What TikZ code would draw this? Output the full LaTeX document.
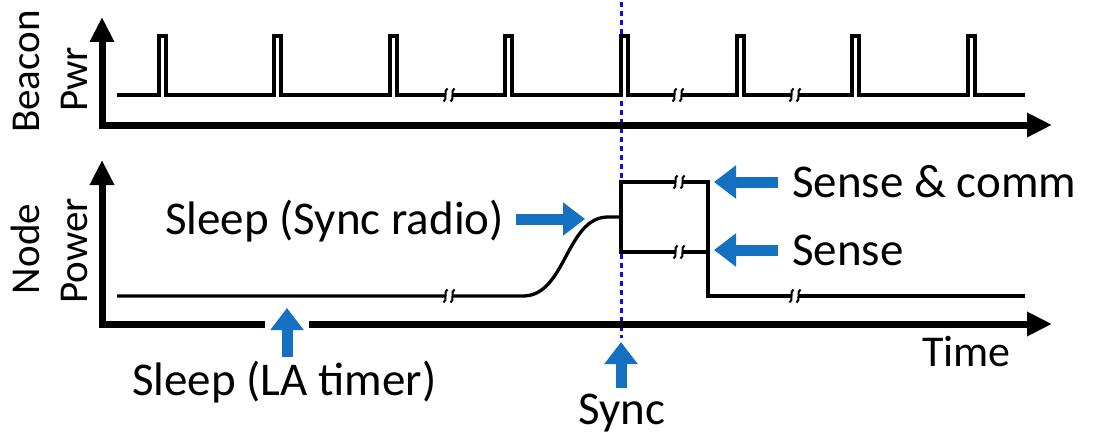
\documentclass[tikz,border=0pt]{standalone}
\usepackage{fontspec}
\setmainfont{Carlito}
\usetikzlibrary{arrows.meta}

\definecolor{calloutblue}{RGB}{20,112,192}
\definecolor{syncblue}{RGB}{12,12,232}

% small break mark on a signal line
\newcommand{\lnbreak}[2]{%
    \fill[white] (#1-3.5,#2-2.5) rectangle (#1+3.5,#2+2.5);
    \draw[line width=2pt] (#1-1.5,#2-6.5) .. controls (#1-6,#2-5) and (#1-1,#2+5) .. (#1-5.5,#2+6.5);
    \draw[line width=2pt] (#1+5.5,#2-6.5) .. controls (#1+1,#2-5) and (#1+6,#2+5) .. (#1+1.5,#2+6.5);
}

\begin{document}
\begin{tikzpicture}[
        x=1pt,
        y=-1pt,
        axis/.style={line width=7pt, line join=miter, {Triangle[width=23pt,length=25pt]}-{Triangle[width=23pt,length=25pt]}},
        signal/.style={line width=3.3pt, line join=miter},
        callout/.style={draw=calloutblue, line width=11pt, -{Triangle[width=32pt,length=22pt]}},
        label text/.style={inner sep=0pt, font=\fontsize{47}{56}\selectfont},
        axis text/.style={inner sep=0pt, rotate=90, font=\fontsize{41}{49}\selectfont}
    ]
    \useasboundingbox (0,0) rectangle (1097,436);

    % sync instant
    \draw[syncblue, line width=3pt, dash pattern=on 5pt off 4pt] (621,2) -- (621,338);

    % axes
    \draw[axis] (102,17) -- (102,125) -- (1052,125);
    \draw[axis] (102,160) -- (102,324) -- (1052,324);
    \fill[white] (265,318) rectangle (309,330);

    \node[axis text, anchor=base west] (beacon) at (39,133) {Beacon};
    \node[axis text, anchor=base west] (pwr) at (87,112) {Pwr};
    \node[axis text, anchor=base] (node) at (39,249) {Node};
    \node[axis text, anchor=base] (power) at (87,251) {Power};

    % beacon pulses
    \draw[signal] (117,95)
        \foreach \p in {159,274,390,505,621,737,852,968} {
            -- (\p,95) -- (\p,36) -- (\p+7,36) -- (\p+7,95)
        } -- (1025,95);
    \foreach \bx in {449,678,795} {
        \lnbreak{\bx}{95}
    }

    % node power
    \draw[signal] (117,296) -- (523,296) .. controls (566,296) and (566,217) .. (608,217) -- (621,217);
    \draw[signal] (708,252) -- (621,252) -- (621,182) -- (708,182) -- (708,296) -- (1025,296);
    \foreach \bx/\by in {449/296, 679/182, 679/252, 795/296} {
        \lnbreak{\bx}{\by}
    }

    % labels
    \node[label text, anchor=base west] (sleepradio) at (165,234) {Sleep (Sync radio)};
    \node[label text, anchor=base west] (sensecomm) at (792,197) {Sense \& comm};
    \node[label text, anchor=base west] (sense) at (792,265) {Sense};
    \node[label text, anchor=base west] (sleeptimer) at (132,395) {Sleep (LA timer)};
    \node[label text, anchor=base west] (sync) at (578,424) {Sync};
    \node[label text, anchor=base west, font=\fontsize{44}{52}\selectfont] (time) at (922,366) {Time};

    \coordinate (radiotip) at (585,219);
    \coordinate (commtip) at (714,182);
    \coordinate (sensetip) at (714,250);
    \coordinate (timertip) at (287,308);
    \coordinate (synctip) at (621,342);

    \draw[callout, shorten <=12pt] (sleepradio.east |- radiotip) -- (radiotip);
    \draw[callout, shorten <=14pt] (sensecomm.west |- commtip) -- (commtip);
    \draw[callout, shorten <=14pt] (sense.west |- sensetip) -- (sensetip);
    \draw[callout, shorten <=3pt] (sleeptimer.north -| timertip) -- (timertip);
    \draw[callout, shorten <=5pt] (sync.north -| synctip) -- (synctip);
\end{tikzpicture}
\end{document}
